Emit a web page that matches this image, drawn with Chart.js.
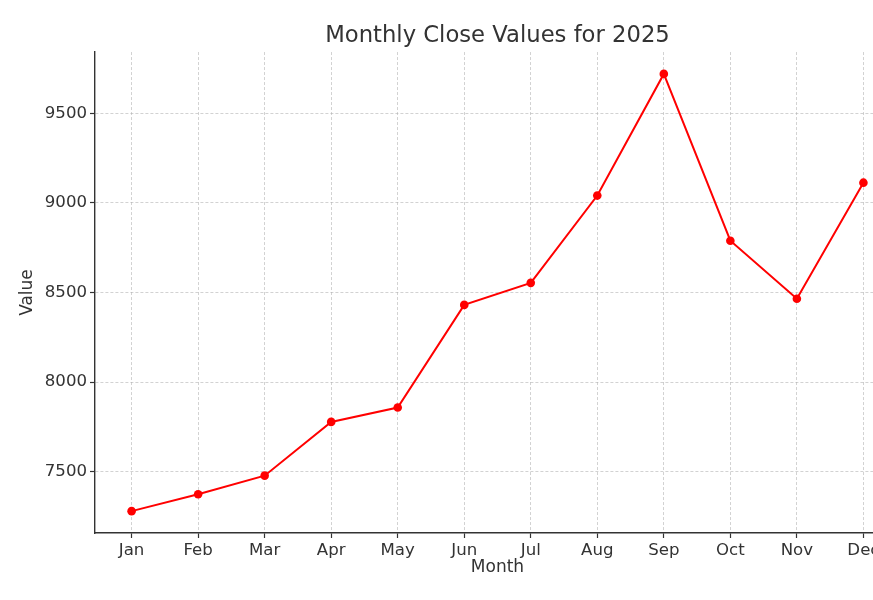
<!DOCTYPE html>
<html>
<head>
<meta charset="utf-8">
<script src="https://cdn.jsdelivr.net/npm/chart.js@4.4.1/dist/chart.umd.min.js"></script>
<style>
  html, body { margin: 0; padding: 0; background: #fff; overflow: hidden; }
  #wrap { width: 873px; height: 600px; overflow: hidden; }
</style>
</head>
<body>
<div id="wrap"><canvas id="chart" width="920" height="600"></canvas></div>
<script>
// данные графика
const months = ['Jan', 'Feb', 'Mar', 'Apr', 'May', 'Jun', 'Jul', 'Aug', 'Sep', 'Oct', 'Nov', 'Dec'];
const closeValues = [7280, 7374, 7478, 7778, 7858, 8431, 8554, 9041, 9720, 8789, 8465, 9113];
const yTicks = [7500, 8000, 8500, 9000, 9500];

const axisColor = '#333333';
const gridColor = 'rgba(175, 175, 175, 0.7)';
const font = 'DejaVu Sans';

const ctx = document.getElementById('chart');

new Chart(ctx, {
  type: 'line',
  data: {
    datasets: [
      {
        label: 'Close',
        data: months.map((m, i) => ({ x: i, y: closeValues[i] })),
        borderColor: '#ff0000',
        backgroundColor: '#ff0000',
        borderWidth: 2,
        tension: 0,
        pointRadius: 4.3,
        pointHoverRadius: 4.3,
        pointBackgroundColor: '#ff0000',
        pointBorderWidth: 0,
        fill: false,
      },
    ],
  },
  options: {
    responsive: false,
    animation: false,
    devicePixelRatio: 1,
    layout: { padding: { left: 0, right: 20, top: 0, bottom: 0 } },
    plugins: {
      legend: { display: false },
      tooltip: { enabled: false },
      title: {
        display: true,
        text: 'Monthly Close Values for 2025',
        fullSize: false,
        color: axisColor,
        font: { family: font, size: 22.7, weight: 'normal' },
        padding: { top: 22.4, bottom: 2.4 },
      },
    },
    scales: {
      x: {
        type: 'linear',
        min: -0.55,
        max: 11.55,
        afterBuildTicks: (scale) => {
          scale.ticks = months.map((m, i) => ({ value: i }));
        },
        afterFit: (scale) => { scale.height = 67; },
        ticks: {
          callback: (v) => months[v],
          color: axisColor,
          font: { family: font, size: 16.6 },
          padding: 3,
          maxRotation: 0,
          autoSkip: false,
        },
        grid: {
          color: gridColor,
          lineWidth: 0.8,
          drawTicks: true,
          tickLength: 5,
          tickColor: axisColor,
          tickWidth: 1.2,
          tickBorderDash: [],
        },
        border: { display: true, color: axisColor, width: 1.4, dash: [3, 2] },
        title: {
          display: true,
          text: 'Month',
          color: axisColor,
          font: { family: font, size: 17 },
          padding: { top: 0, bottom: 21.8 },
        },
      },
      y: {
        type: 'linear',
        min: 7158,
        max: 9842,
        afterBuildTicks: (scale) => {
          scale.ticks = yTicks.map((v) => ({ value: v }));
        },
        afterFit: (scale) => { scale.width = 95; },
        ticks: {
          callback: (v) => String(v),
          color: axisColor,
          font: { family: font, size: 16.6 },
          padding: 3,
        },
        grid: {
          color: gridColor,
          lineWidth: 0.8,
          drawTicks: true,
          tickLength: 5,
          tickColor: axisColor,
          tickWidth: 1.2,
          tickBorderDash: [],
        },
        border: { display: true, color: axisColor, width: 1.4, dash: [3, 2] },
        title: {
          display: true,
          text: 'Value',
          color: axisColor,
          font: { family: font, size: 17 },
          padding: { top: 17.8, bottom: 0 },
        },
      },
    },
  },
});
</script>
</body>
</html>
